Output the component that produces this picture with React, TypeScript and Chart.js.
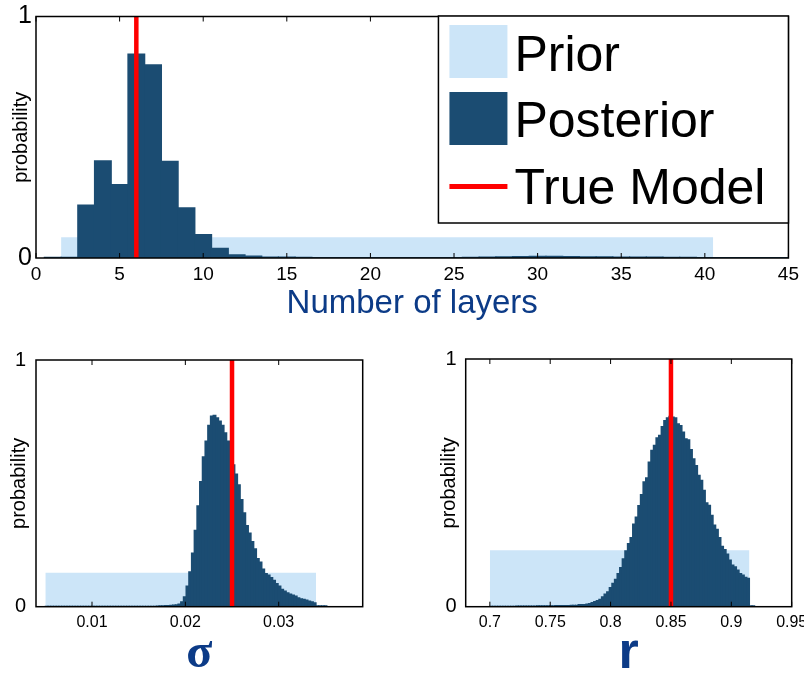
import React, { useEffect, useRef } from "react";
import { Chart, registerables } from "chart.js";

Chart.register(...registerables);

// ---------- colours / fonts ----------
const PRIOR_COLOR = "#cce5f8";
const POST_COLOR = "#1b4c72";
const TRUE_COLOR = "#ff0000";
const TITLE_COLOR = "#0c3b87";
const SANS = "'Liberation Sans', Arial, Helvetica, sans-serif";
const SERIF = "'Liberation Serif', 'Times New Roman', serif";

// ---------- shared y axis ----------
const Y_TICKS = [0, 1];
const Y_TICK_LABELS = ["0", "1"];

// ---------- number of layers ----------
const LAYER_BINS = [
  1, 2, 3, 4, 5, 6, 7, 8, 9, 10, 11, 12, 13, 14, 15, 16, 17, 18, 19, 20, 21, 22, 23,
  24, 25, 26, 27, 28, 29, 30, 31, 32, 33, 34, 35, 36, 37, 38, 39, 40, 41, 42, 43, 44, 45,
];
const LAYER_POSTERIOR = [
  0.003, 0.003, 0.219, 0.402, 0.304, 0.844, 0.8, 0.4, 0.208, 0.097, 0.04, 0.013, 0.008,
  0.004, 0.004, 0.003, 0.002, 0.002, 0.002, 0.002, 0.002, 0.002, 0.002, 0.002, 0.002,
  0.003, 0.004, 0.005, 0.006, 0.007, 0.007, 0.006, 0.005, 0.005, 0.004, 0.004, 0.004,
  0.003, 0.003, 0.002, 0.002, 0.002, 0.002, 0.002, 0.002,
];
const LAYER_PRIOR_RANGE = [1.5, 40.5];
const LAYER_PRIOR_HEIGHT = 0.086;
const LAYER_TRUE = 6;
const LAYER_X_RANGE = [0, 45];
const LAYER_TICKS = [0, 5, 10, 15, 20, 25, 30, 35, 40, 45];
const LAYER_TICK_LABELS = ["0", "5", "10", "15", "20", "25", "30", "35", "40", "45"];

// ---------- sigma ----------
const SIGMA_BIN_START = 0.005;
const SIGMA_BIN_WIDTH = 0.00029;
const SIGMA_POSTERIOR = [
  0.001, 0.001, 0.001, 0.001, 0.001, 0.001, 0.001, 0.001, 0.001, 0.001,
  0.001, 0.001, 0.001, 0.001, 0.001, 0.001, 0.001, 0.001, 0.001, 0.001,
  0.001, 0.001, 0.001, 0.001, 0.001, 0.001, 0.001, 0.001, 0.001, 0.001,
  0.001, 0.001, 0.001, 0.001, 0.001, 0.001, 0.001, 0.001, 0.001, 0.001,
  0.001, 0.002, 0.003, 0.003, 0.004, 0.004, 0.005, 0.006, 0.008, 0.011,
  0.02, 0.04, 0.083, 0.141, 0.217, 0.309, 0.409, 0.507, 0.607, 0.671,
  0.735, 0.773, 0.776, 0.765, 0.752, 0.735, 0.705, 0.671, 0.62, 0.575,
  0.537, 0.494, 0.434, 0.38, 0.329, 0.298, 0.264, 0.235, 0.195, 0.181,
  0.152, 0.134, 0.128, 0.118, 0.107, 0.094, 0.083, 0.07, 0.063, 0.056,
  0.051, 0.047, 0.043, 0.036, 0.032, 0.03, 0.027, 0.023, 0.02, 0.016,
  0.003, 0.003, 0.003, 0.003,
];
const SIGMA_PRIOR_RANGE = [0.005, 0.034];
const SIGMA_PRIOR_HEIGHT = 0.138;
const SIGMA_TRUE = 0.025;
const SIGMA_X_RANGE = [0.004, 0.039];
const SIGMA_TICKS = [0.01, 0.02, 0.03];
const SIGMA_TICK_LABELS = ["0.01", "0.02", "0.03"];

// ---------- r ----------
const R_BIN_START = 0.7;
const R_BIN_WIDTH = 0.00215;
const R_POSTERIOR = [
  0.001, 0.001, 0.001, 0.001, 0.001, 0.001, 0.001, 0.001, 0.001, 0.001,
  0.002, 0.002, 0.002, 0.002, 0.002, 0.002, 0.002, 0.002, 0.003, 0.003,
  0.003, 0.003, 0.003, 0.003, 0.003, 0.004, 0.004, 0.004, 0.004, 0.004,
  0.004, 0.005, 0.005, 0.005, 0.008, 0.008, 0.008, 0.011, 0.013, 0.017,
  0.021, 0.025, 0.03, 0.04, 0.051, 0.06, 0.077, 0.094, 0.11, 0.134,
  0.158, 0.193, 0.225, 0.255, 0.279, 0.333, 0.362, 0.408, 0.453, 0.504,
  0.52, 0.584, 0.631, 0.651, 0.682, 0.692, 0.727, 0.751, 0.762, 0.768,
  0.765, 0.762, 0.738, 0.731, 0.705, 0.678, 0.674, 0.634, 0.597, 0.57,
  0.53, 0.51, 0.47, 0.419, 0.409, 0.369, 0.329, 0.312, 0.279, 0.244,
  0.231, 0.212, 0.188, 0.168, 0.161, 0.148, 0.134, 0.128, 0.118, 0.114,
  0.003, 0.003,
];
const R_PRIOR_RANGE = [0.7, 0.915];
const R_PRIOR_HEIGHT = 0.228;
const R_TRUE = 0.85;
const R_X_RANGE = [0.68, 0.95];
const R_TICKS = [0.7, 0.75, 0.8, 0.85, 0.9, 0.95];
const R_TICK_LABELS = ["0.7", "0.75", "0.8", "0.85", "0.9", "0.95"];

const binCenters = (start: number, width: number, values: number[]) =>
  values.map((_, i) => start + (i + 0.5) * width);

// ---------- plugins ----------
const framePlugin = {
  id: "matlabFrame",
  afterDatasetsDraw(chart: any) {
    const { ctx, chartArea: a, scales } = chart;
    const xs = scales.x;
    ctx.save();
    ctx.strokeStyle = "#000";
    ctx.lineWidth = 1;
    for (const t of xs.ticks) {
      const px = xs.getPixelForValue(t.value);
      ctx.beginPath();
      ctx.moveTo(px, a.top);
      ctx.lineTo(px, a.top + 5);
      ctx.moveTo(px, a.bottom);
      ctx.lineTo(px, a.bottom - 5);
      ctx.stroke();
    }
    ctx.lineWidth = 1.5;
    ctx.strokeRect(a.left, a.top, a.right - a.left, a.bottom - a.top);
    ctx.restore();
  },
};

const boxLegendPlugin = {
  id: "boxLegend",
  afterDraw(chart: any) {
    const { ctx, chartArea: a } = chart;
    const ds = chart.data.datasets;
    const w = 350;
    const h = 207;
    const left = a.right - w;
    const top = a.top - 0.5;
    ctx.save();
    ctx.fillStyle = "#fff";
    ctx.fillRect(left, top, w, h);
    ctx.strokeStyle = "#000";
    ctx.lineWidth = 1.5;
    ctx.strokeRect(left, top, w, h);
    ctx.font = `50px ${SANS}`;
    ctx.textBaseline = "alphabetic";
    ctx.textAlign = "left";
    // Prior
    ctx.fillStyle = ds[0].backgroundColor;
    ctx.fillRect(left + 11, top + 9, 58, 53);
    ctx.fillStyle = "#000";
    ctx.fillText(ds[0].label, left + 76, top + 54.5);
    // Posterior
    ctx.fillStyle = ds[1].backgroundColor;
    ctx.fillRect(left + 11, top + 76, 58, 53);
    ctx.fillStyle = "#000";
    ctx.fillText(ds[1].label, left + 76, top + 121);
    // True model
    ctx.strokeStyle = ds[2].borderColor;
    ctx.lineWidth = 5;
    ctx.beginPath();
    ctx.moveTo(left + 11, top + 170.5);
    ctx.lineTo(left + 69, top + 170.5);
    ctx.stroke();
    ctx.fillStyle = "#000";
    ctx.fillText(ds[2].label, left + 76, top + 188);
    ctx.restore();
  },
};

// ---------- config builder ----------
type HistOpts = {
  centers: number[];
  posterior: number[];
  priorRange: number[];
  priorHeight: number;
  trueValue: number;
  xRange: number[];
  xTicks: number[];
  xTickLabels: string[];
  xTitle: string;
  xTitleFont: any;
  xTickFont: number;
  xTickPad: number;
  yTickFont: number;
  yTickPad: number;
  yTitlePad: number;
  padding: any;
  yWidth: number;
  xHeight: number;
  legend: boolean;
};

function histConfig(o: HistOpts): any {
  return {
    type: "bar",
    data: {
      datasets: [
        {
          type: "line",
          label: "Prior",
          data: [
            { x: o.priorRange[0], y: o.priorHeight },
            { x: o.priorRange[1], y: o.priorHeight },
          ],
          fill: "origin",
          backgroundColor: PRIOR_COLOR,
          borderColor: PRIOR_COLOR,
          borderWidth: 0,
          pointRadius: 0,
          tension: 0,
          order: 3,
        },
        {
          type: "bar",
          label: "Posterior",
          data: o.centers.map((x, i) => ({ x, y: o.posterior[i] })),
          backgroundColor: POST_COLOR,
          borderWidth: 0,
          barPercentage: 1,
          categoryPercentage: 1,
          inflateAmount: 0.6,
          order: 2,
        },
        {
          type: "line",
          label: "True Model",
          data: [
            { x: o.trueValue, y: 0 },
            { x: o.trueValue, y: 1 },
          ],
          borderColor: TRUE_COLOR,
          backgroundColor: TRUE_COLOR,
          borderWidth: 4.5,
          borderCapStyle: "butt",
          pointRadius: 0,
          fill: false,
          order: 1,
        },
      ],
    },
    options: {
      responsive: false,
      animation: false,
      events: [],
      layout: { padding: o.padding },
      plugins: { legend: { display: false }, tooltip: { enabled: false } },
      scales: {
        x: {
          type: "linear",
          min: o.xRange[0],
          max: o.xRange[1],
          offset: false,
          grid: { display: false, drawTicks: false },
          border: { display: false },
          afterBuildTicks: (s: any) => {
            s.ticks = o.xTicks.map((v) => ({ value: v }));
          },
          afterFit: (s: any) => {
            s.height = o.xHeight;
          },
          ticks: {
            autoSkip: false,
            maxRotation: 0,
            minRotation: 0,
            padding: o.xTickPad,
            color: "#000",
            font: { family: SANS, size: o.xTickFont },
            callback: (_v: any, i: number) => o.xTickLabels[i],
          },
          title: {
            display: true,
            text: o.xTitle,
            color: TITLE_COLOR,
            font: o.xTitleFont,
            padding: { top: 0, bottom: 0 },
          },
        },
        y: {
          type: "linear",
          min: 0,
          max: 1,
          grid: { display: false, drawTicks: false },
          border: { display: false },
          afterBuildTicks: (s: any) => {
            s.ticks = Y_TICKS.map((v) => ({ value: v }));
          },
          afterFit: (s: any) => {
            s.width = o.yWidth;
          },
          ticks: {
            padding: o.yTickPad,
            color: "#000",
            font: { family: SANS, size: o.yTickFont, lineHeight: 1 },
            callback: (_v: any, i: number) => Y_TICK_LABELS[i],
          },
          title: {
            display: true,
            text: "probability",
            color: "#000",
            font: { family: SANS, size: 20 },
            padding: { top: o.yTitlePad, bottom: 0 },
          },
        },
      },
    },
    plugins: o.legend ? [framePlugin, boxLegendPlugin] : [framePlugin],
  };
}

function ChartBox(props: { left: number; top: number; width: number; height: number; make: () => any }) {
  const ref = useRef<HTMLCanvasElement>(null);
  useEffect(() => {
    const chart = new Chart(ref.current as HTMLCanvasElement, props.make());
    return () => chart.destroy();
  }, []);
  return (
    <canvas
      ref={ref}
      width={props.width}
      height={props.height}
      style={{
        position: "absolute",
        left: props.left,
        top: props.top,
        width: props.width,
        height: props.height,
        display: "block",
      }}
    />
  );
}

export default function App() {
  const layersCfg = () =>
    histConfig({
      centers: LAYER_BINS,
      posterior: LAYER_POSTERIOR,
      priorRange: LAYER_PRIOR_RANGE,
      priorHeight: LAYER_PRIOR_HEIGHT,
      trueValue: LAYER_TRUE,
      xRange: LAYER_X_RANGE,
      xTicks: LAYER_TICKS,
      xTickLabels: LAYER_TICK_LABELS,
      xTitle: "Number of layers",
      xTitleFont: { family: SANS, size: 33, lineHeight: 1.2 },
      xTickFont: 19,
      xTickPad: 5,
      yTickFont: 25,
      yTickPad: 4,
      yTitlePad: 9,
      padding: { top: 12.7, right: 12, left: 0, bottom: 0 },
      yWidth: 36,
      xHeight: 66,
      legend: true,
    });

  const sigmaCfg = () =>
    histConfig({
      centers: binCenters(SIGMA_BIN_START, SIGMA_BIN_WIDTH, SIGMA_POSTERIOR),
      posterior: SIGMA_POSTERIOR,
      priorRange: SIGMA_PRIOR_RANGE,
      priorHeight: SIGMA_PRIOR_HEIGHT,
      trueValue: SIGMA_TRUE,
      xRange: SIGMA_X_RANGE,
      xTicks: SIGMA_TICKS,
      xTickLabels: SIGMA_TICK_LABELS,
      xTitle: "σ",
      xTitleFont: { family: SERIF, size: 48, weight: "bold", lineHeight: 0.9 },
      xTickFont: 16,
      xTickPad: 6,
      yTickFont: 20,
      yTickPad: 10,
      yTitlePad: 7,
      padding: { top: 18.3, right: 17.3, left: 0, bottom: 0 },
      yWidth: 36,
      xHeight: 69.3,
      legend: false,
    });

  const rCfg = () =>
    histConfig({
      centers: binCenters(R_BIN_START, R_BIN_WIDTH, R_POSTERIOR),
      posterior: R_POSTERIOR,
      priorRange: R_PRIOR_RANGE,
      priorHeight: R_PRIOR_HEIGHT,
      trueValue: R_TRUE,
      xRange: R_X_RANGE,
      xTicks: R_TICKS,
      xTickLabels: R_TICK_LABELS,
      xTitle: "r",
      xTitleFont: { family: SANS, size: 52, weight: "bold", lineHeight: 0.85 },
      xTickFont: 16,
      xTickPad: 6,
      yTickFont: 20,
      yTickPad: 9,
      yTitlePad: 7.6,
      padding: { top: 18.3, right: 38.3, left: 0, bottom: 0 },
      yWidth: 35.7,
      xHeight: 69.3,
      legend: false,
    });

  return (
    <div
      style={{
        position: "absolute",
        left: 0,
        top: 0,
        width: 804,
        height: 677,
        overflow: "hidden",
        background: "#fff",
      }}
    >
      <ChartBox left={0} top={0} width={804} height={324} make={layersCfg} />
      <ChartBox left={0} top={340} width={380} height={336} make={sigmaCfg} />
      <ChartBox left={430} top={340} width={400} height={336} make={rCfg} />
    </div>
  );
}
